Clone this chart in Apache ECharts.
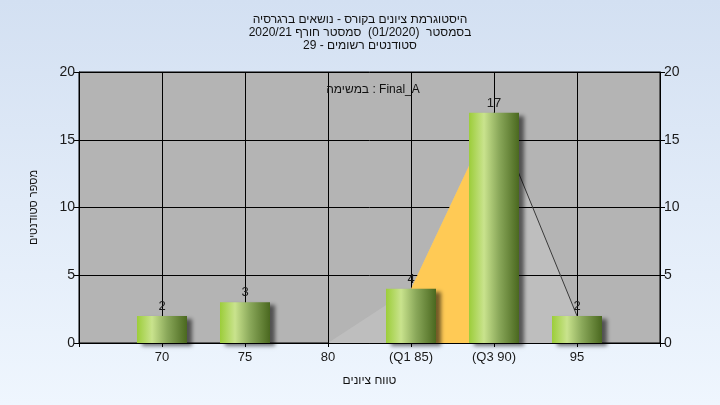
<!DOCTYPE html>
<html>
<head>
<meta charset="utf-8">
<script src="https://cdn.jsdelivr.net/npm/echarts@6/dist/echarts.min.js"></script>
<style>
html,body{margin:0;padding:0;}
#c{position:absolute;left:0;top:0;width:720px;height:405px;direction:rtl;}
</style>
</head>
<body>
<div id="c"></div>
<script>
const titleLines = ["היסטוגרמת ציונים בקורס - נושאים ברגרסיה", "בסמסטר  (01/2020)  סמסטר חורף 2020/21", "סטודנטים רשומים - 29"];
const subtitle = "Final_A : במשימה";
const binValues = [70, 75, 80, 85, 90, 95];
const binLabels = ["70", "75", "80", "(Q1 85)", "(Q3 90)", "95"];
const counts = [2, 3, 0, 4, 17, 2];
const curveX = [80, 85, 90, 95];
const curveY = [0, 4, 17, 2];
const quartileX = [85, 90];
const quartileY = [4, 17];
const xName = "טווח ציונים";
const yName = "מספר סטודנטים";

const font = "'Liberation Sans', 'DejaVu Sans', sans-serif";
const barData = binValues.map((v, i) => [v, counts[i]]).filter(d => d[1] > 0);
const curveData = curveX.map((v, i) => [v, curveY[i]]);
const qData = quartileX.map((v, i) => [v, quartileY[i]]);
const tailData = [curveData[2], curveData[3]];

const chart = echarts.init(document.getElementById('c'));
const yAxisCommon = {
  type: 'value', min: 0, max: 20, interval: 5, z: 3,
  axisLine: {show: true, lineStyle: {color: '#000', width: 1}},
  axisTick: {show: true, length: 5, lineStyle: {color: '#000'}},
  axisLabel: {color: '#1a1a1a', fontSize: 14, fontFamily: font, margin: 4},
};
chart.setOption({
  backgroundColor: new echarts.graphic.LinearGradient(0, 0, 0, 1, [
    {offset: 0, color: '#d3e0f2'}, {offset: 1, color: '#eff6fe'}
  ]),
  animation: false,
  title: [{
    text: titleLines.join('\n'), left: 'center', top: 8,
    textStyle: {fontSize: 12, fontWeight: 'normal', color: '#111', fontFamily: font, lineHeight: 13}
  }, {
    text: subtitle, left: 368, top: 79, textAlign: 'center',
    textStyle: {fontSize: 12, fontWeight: 'normal', color: '#111', fontFamily: font}
  }],
  grid: {left: 79, right: 60, top: 72, bottom: 62, show: true, backgroundColor: '#b4b4b4', borderColor: '#000', borderWidth: 1},
  xAxis: {
    type: 'value', min: 65, max: 100, interval: 5, z: 3,
    name: xName, nameLocation: 'middle', nameGap: 32,
    nameTextStyle: {fontSize: 12, color: '#111', fontFamily: font},
    axisLine: {show: true, onZero: false, lineStyle: {color: '#000'}},
    axisTick: {show: true, length: 4, lineStyle: {color: '#000'}},
    axisLabel: {
      color: '#1a1a1a', fontSize: 13, fontFamily: font, margin: 8,
      formatter: v => { const i = binValues.indexOf(v); return i >= 0 ? binLabels[i] : ''; }
    },
    splitLine: {show: true, lineStyle: {color: '#000', width: 1}}
  },
  yAxis: [
    Object.assign({}, yAxisCommon, {
      position: 'left', name: yName, nameLocation: 'middle', nameGap: 40, nameRotate: 90,
      nameTextStyle: {fontSize: 11, color: '#111', fontFamily: font},
      splitLine: {show: true, lineStyle: {color: '#000', width: 1}}
    }),
    Object.assign({}, yAxisCommon, {position: 'right', splitLine: {show: false}})
  ],
  series: [
    {
      type: 'line', data: curveData, symbol: 'none', z: 2,
      lineStyle: {width: 0}, areaStyle: {color: '#bebebe', opacity: 1}
    },
    {
      type: 'line', data: qData, symbol: 'none', z: 4,
      lineStyle: {width: 0}, areaStyle: {color: '#ffca55', opacity: 1}
    },
    {
      type: 'line', data: tailData, symbol: 'none', z: 4,
      lineStyle: {width: 1, color: '#3a3a3a'}
    },
    {
      type: 'bar', data: barData, barWidth: 50, z: 5,
      itemStyle: {
        color: new echarts.graphic.LinearGradient(0, 0, 1, 0, [
          {offset: 0, color: '#9ccd3a'},
          {offset: 0.3, color: '#c9e38d'},
          {offset: 0.6, color: '#8aa85a'},
          {offset: 1, color: '#4a681f'}
        ]),
        shadowColor: 'rgba(0,0,0,0.55)', shadowBlur: 4, shadowOffsetX: 5, shadowOffsetY: 3
      },
      label: {show: true, position: 'top', distance: 3, color: '#1a1a1a', fontSize: 13, fontFamily: font}
    }
  ]
});
</script>
</body>
</html>
